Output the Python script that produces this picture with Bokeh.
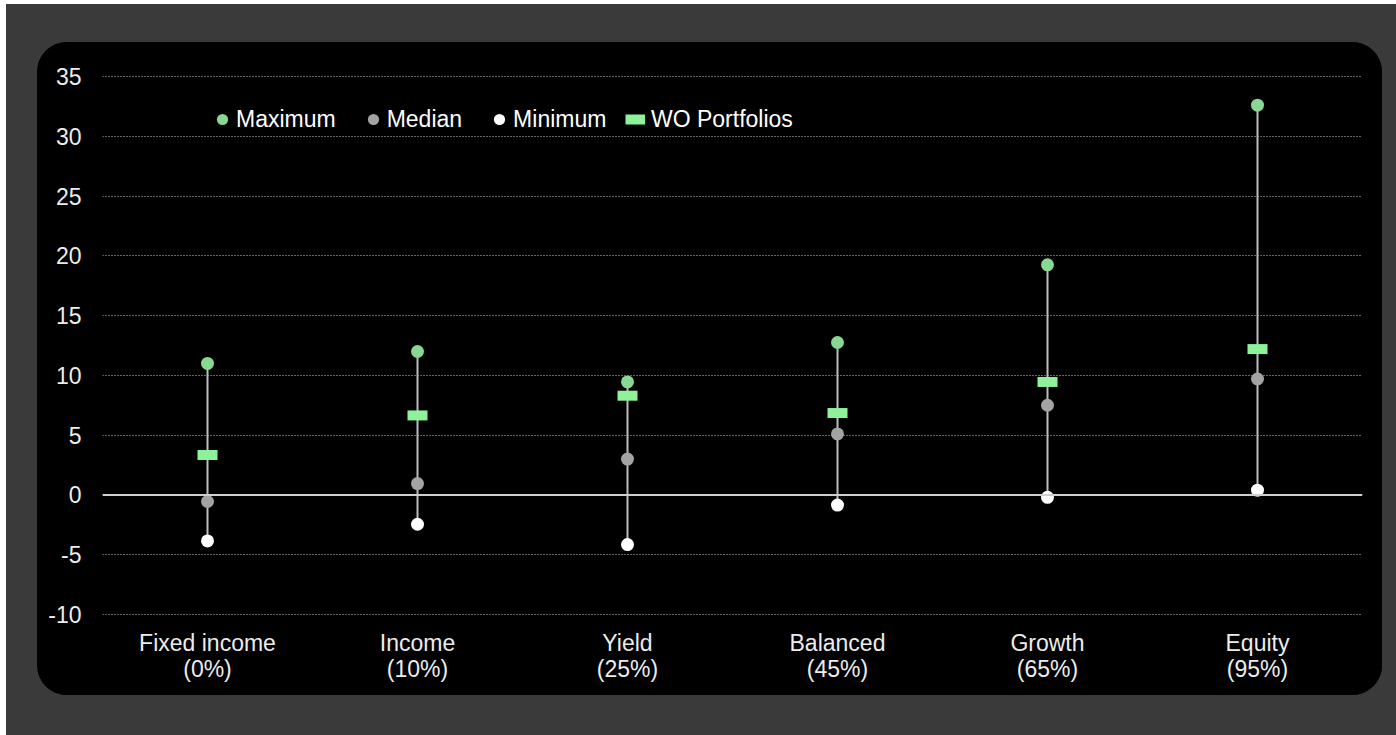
from bokeh.plotting import figure
from bokeh.models import (ColumnDataSource, Legend, LegendItem, FixedTicker,
                          Range1d, FactorRange, Span)
from bokeh.layouts import column
from bokeh.embed import file_html
from bokeh.resources import INLINE

# ---- data ----
categories = ["Fixed income\n(0%)", "Income\n(10%)", "Yield\n(25%)",
              "Balanced\n(45%)", "Growth\n(65%)", "Equity\n(95%)"]
maximum = [11.0, 12.0, 9.45, 12.75, 19.25, 32.6]
median = [-0.55, 0.95, 3.0, 5.1, 7.5, 9.7]
minimum = [-3.85, -2.45, -4.15, -0.85, -0.2, 0.4]
wo_portfolios = [3.35, 6.65, 8.3, 6.85, 9.45, 12.2]
y_ticks = [-10, -5, 0, 5, 10, 15, 20, 25, 30, 35]

FONT = "Liberation Sans"
TXT = "#ececec"

src = ColumnDataSource(dict(cat=categories, mx=maximum, md=median,
                            mn=minimum, wo=wo_portfolios))

p = figure(x_range=FactorRange(factors=categories, range_padding=0),
           y_range=Range1d(-10.085, 35.085),
           width=1345, height=653,
           output_backend="svg", toolbar_location=None,
           background_fill_color="black", border_fill_color="black",
           min_border_left=65, min_border_right=20,
           min_border_top=33, min_border_bottom=80)
p.outline_line_color = None
p.styles = {"border-radius": "30px", "overflow": "hidden",
            "background-color": "black"}
p.margin = (38, 14, 40, 31)

# grid
p.xgrid.grid_line_color = None
p.ygrid.grid_line_color = "#c8c8c8"
p.ygrid.grid_line_dash = "1 2"
p.ygrid.grid_line_width = 1
p.yaxis.ticker = FixedTicker(ticks=y_ticks)
p.yaxis.major_label_overrides = {t: str(t) for t in y_ticks}

# axes
for ax in (p.xaxis, p.yaxis):
    ax.axis_line_color = None
    ax.major_tick_line_color = None
    ax.minor_tick_line_color = None
    ax.major_tick_out = 0
    ax.major_tick_in = 0
    ax.minor_tick_out = 0
    ax.major_label_text_font = FONT
    ax.major_label_text_font_size = "23px"
    ax.major_label_text_color = TXT
p.yaxis.major_label_standoff = 21
p.xaxis.major_label_standoff = 14
p.xaxis.major_label_text_line_height = 1.0

# zero line
p.add_layout(Span(location=0, dimension="width", line_color="#cfcfcf",
                  line_width=2))

# whiskers
p.segment(x0="cat", y0="mn", x1="cat", y1="mx", source=src,
          line_color="#bdbdbd", line_width=2)

r_wo = p.rect(x="cat", y="wo", width=20, height=10, width_units="screen",
              height_units="screen", source=src, fill_color="#8ef29b",
              line_color=None)
r_min = p.scatter(x="cat", y="mn", source=src, size=13, fill_color="white",
                  line_color=None)
r_md = p.scatter(x="cat", y="md", source=src, size=13, fill_color="#a3a3a3",
                 line_color=None)
r_mx = p.scatter(x="cat", y="mx", source=src, size=13, fill_color="#88d894",
                 line_color=None)

# legend proxy for WO Portfolios (flat bar), draws nothing in the plot
r_wo_leg = p.line(x=categories[:1], y=[float("nan")], line_color="#8ef29b",
                  line_width=10, line_cap="butt")

common = dict(orientation="horizontal", padding=0, margin=0,
              border_line_color=None, background_fill_alpha=0,
              label_text_color="white", label_text_font=FONT,
              label_text_font_size="23px", glyph_height=28)

legend = Legend(items=[LegendItem(label="Maximum", renderers=[r_mx]),
                       LegendItem(label="Median", renderers=[r_md]),
                       LegendItem(label="Minimum", renderers=[r_min])],
                location=(106, 482), glyph_width=28, label_standoff=0,
                spacing=23, **common)
legend2 = Legend(items=[LegendItem(label="WO Portfolios", renderers=[r_wo_leg])],
                 location=(523, 482), glyph_width=20, label_standoff=6,
                 **common)
p.add_layout(legend)
p.add_layout(legend2)

layout = column(p, width=1390, height=731, margin=(4, 0, 0, 6),
                styles={"background-color": "#3a3a3a"})

open("out.html", "w").write(file_html(layout, INLINE))
